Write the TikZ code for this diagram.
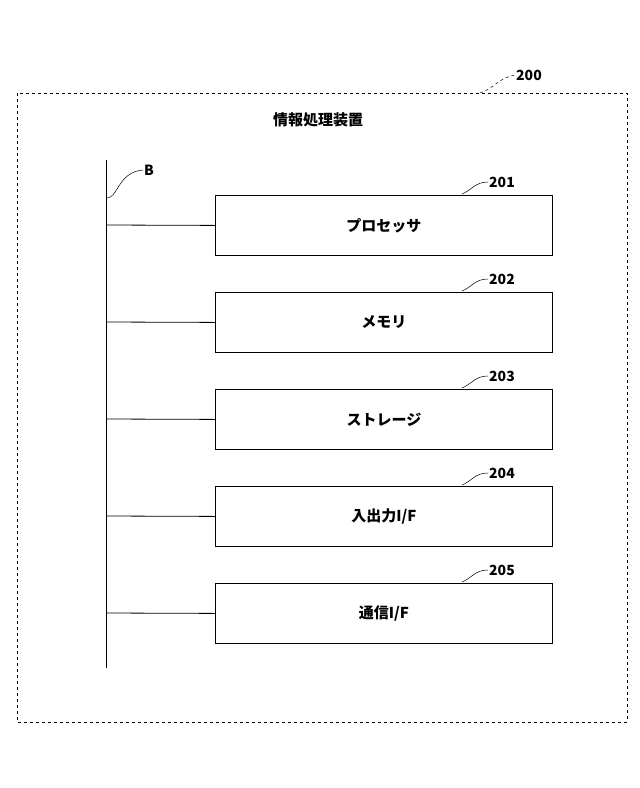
\documentclass[tikz,border=0pt]{standalone}
\usepackage{fontspec}
\setmainfont{Noto Sans CJK JP}
\begin{document}
\begin{tikzpicture}[x=1pt,y=-1pt,
  box/.style={draw,line width=0.8pt,minimum width=337pt,minimum height=60pt,anchor=north west,font=\fontsize{15}{17}\selectfont\bfseries},
  lab/.style={font=\fontsize{14}{16}\selectfont\bfseries,anchor=west,inner sep=1pt},
  sq/.style={line width=0.5pt}]
\useasboundingbox (0,0) rectangle (640,788);
\draw[dashed,line width=0.6pt] (17,93) rectangle (627,722);
\node[font=\fontsize{15}{17}\selectfont\bfseries] (title) at (318,120) {情報処理装置};
\coordinate (bt) at (106,160);
\coordinate (bb) at (106,668);
\draw[line width=0.8pt] (bt) -- (bb);
\node[lab] (B) at (143,170) {B};
\coordinate (bs) at (107,198);
\draw[sq] (bs) .. controls (118,198) and (118,172) .. (B.west);
\node[lab] (L200) at (515,75) {200};
\coordinate (s200) at (480,93);
\draw[sq,dashed] (s200) .. controls (495,88) and (498,78) .. (L200.west);
\foreach \i/\y/\t in {1/195/{プロセッサ},2/292/{メモリ},3/389/{ストレージ},4/486/{入出力I/F},5/583/{通信I/F}}{
  \node[box] (b\i) at (215,\y) {\t};
  \coordinate (c\i) at (106,\y+30);
  \draw[line width=0.8pt] (c\i) -- (b\i.west);
  \node[lab] (n\i) at (488,\y-13) {20\i};
  \coordinate (s\i) at (462,\y-1);
  \draw[sq] (s\i) .. controls (472,\y-5) and (475,\y-13) .. (n\i.west);
}
\end{tikzpicture}
\end{document}
